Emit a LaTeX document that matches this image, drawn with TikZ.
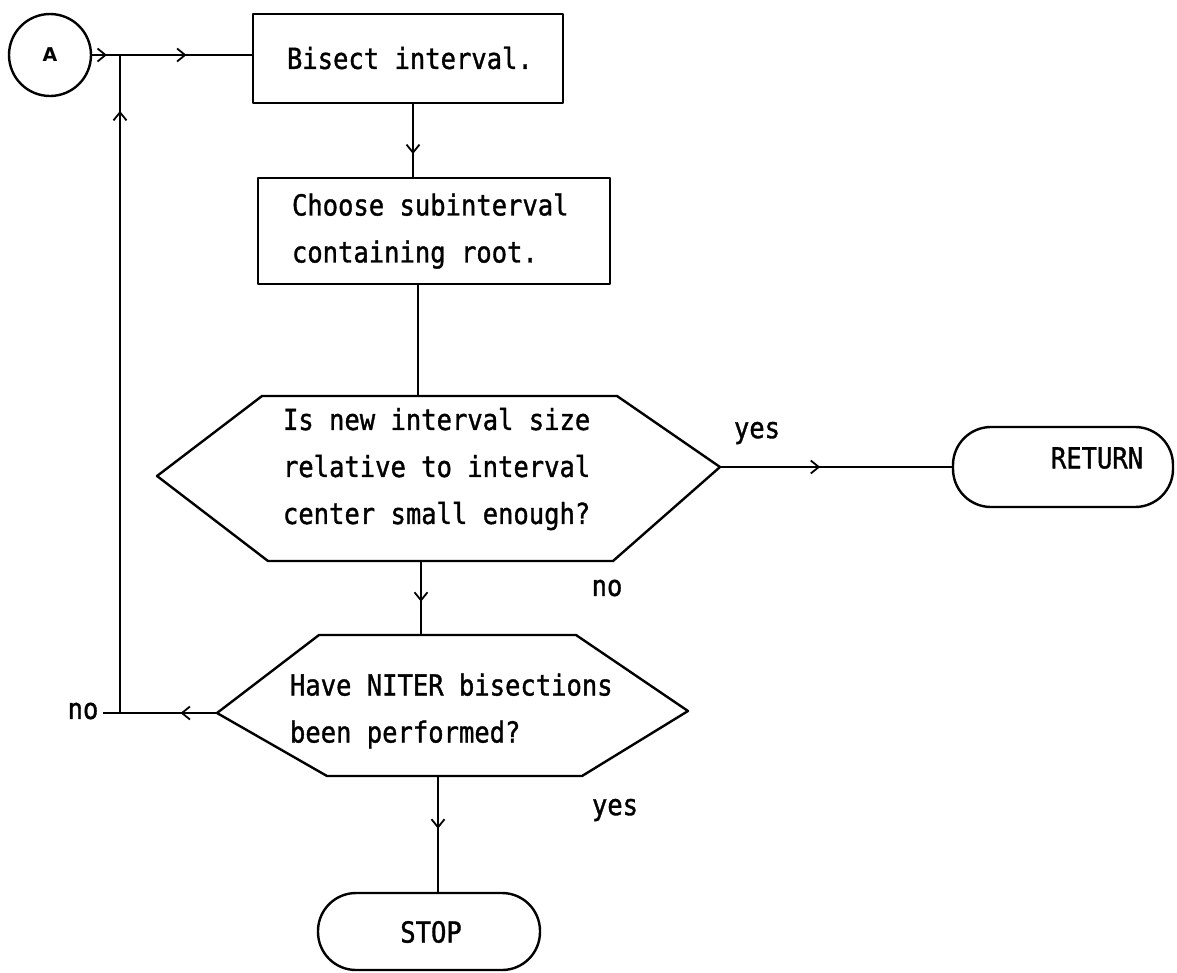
\documentclass[tikz,border=0pt]{standalone}
\usepackage{fontspec}
\newfontfamily\gothic[FakeStretch=0.88,FakeBold=1.2]{DejaVu Sans Mono}
\newfontfamily\labelsans{DejaVu Sans}
\usetikzlibrary{arrows.meta,decorations.markings,calc}

\begin{document}
\begin{tikzpicture}[x=1pt,y=-1pt,
  every node/.style={inner sep=0pt, outer sep=0pt},
  txt/.style={font=\gothic\fontsize{29}{47}\selectfont, align=left},
  outline/.style={draw=black, line width=2.4pt, line join=round},
  conn/.style={draw=black, line width=1.8pt},
  barb/.style={postaction={decorate}, decoration={markings,
      mark=at position #1 with {\arrow{Straight Barb[length=8pt,width=13pt,line width=1.8pt]}}}},
  term/.style={outline, rounded corners=38pt},
]
\useasboundingbox (0,0) rectangle (1177,972);

% connector start circle and process boxes
\node[outline, circle, minimum size=82pt,
      font=\labelsans\bfseries\fontsize{19}{19}\selectfont] (A) at (50,55) {A};
\node[outline, minimum width=310pt, minimum height=89pt] (bis) at (408,58.5) {};
\node[txt, anchor=west] (bist) at (287,58) {Bisect interval.};
\node[outline, minimum width=352pt, minimum height=106pt] (cho) at (434,231) {};
\node[txt, anchor=west] (chot) at (292,231) {Choose subinterval\\containing root.};

% first decision
\coordinate (h1l)  at (157,476);
\coordinate (h1tl) at (262,396);
\coordinate (h1tr) at (617,396);
\coordinate (h1r)  at (720,467);
\coordinate (h1br) at (613,561);
\coordinate (h1bl) at (268,561);
\draw[outline] (h1l) -- (h1tl) -- (h1tr) -- (h1r) -- (h1br) -- (h1bl) -- cycle;
\node[txt, anchor=west] (q1) at (283,469) {Is new interval size\\relative to interval\\center small enough?};

% second decision
\coordinate (h2l)  at (217,713);
\coordinate (h2tl) at (319,635);
\coordinate (h2tr) at (576,635);
\coordinate (h2r)  at (688,711);
\coordinate (h2br) at (582,776);
\coordinate (h2bl) at (327,776);
\draw[outline] (h2l) -- (h2tl) -- (h2tr) -- (h2r) -- (h2br) -- (h2bl) -- cycle;
\node[txt, anchor=west] (q2) at (290,711) {Have NITER bisections\\been performed?};

% terminals
\node[term, minimum width=220pt, minimum height=80pt] (ret) at (1063,467) {};
\node[txt] (rett) at (1097,458) {RETURN};
\node[term, minimum width=222pt, minimum height=77pt] (stop) at (429,931.5) {};
\node[txt] (stopt) at (431,932) {STOP};

% connector points
\coordinate (J)     at (120,55);
\coordinate (c1)    at (413,0);
\coordinate (h1t)   at (418,396);
\coordinate (h1b)   at (421,561);
\coordinate (h2t)   at (421,635);
\coordinate (h2b)   at (438,776);
\coordinate (lstub) at (103,713);
\coordinate (lcorner) at (120,713);

% flow lines
\draw[conn, barb=0.55] (A.east) -- (J);
\draw[conn, barb=0.5]  (J) -- (J -| bis.west);
\draw[conn, barb=0.68] (bis.south -| c1) -- (cho.north -| c1);
\draw[conn] (cho.south -| h1t) -- (h1t);
\draw[conn, barb=0.55] (h1b) -- (h2t);
\draw[conn, barb=0.43] (h1r) -- (h1r -| ret.west);
\draw[conn, barb=0.45] (h2b) -- (h2b |- stop.north);
\draw[conn, barb=0.32] (h2l) -- (lstub);
\draw[conn, barb=0.915] (lcorner) -- (J);

% branch labels
\node[txt] (yes1) at (757,433) {yes};
\node[txt] (no1)  at (607,588) {no};
\node[txt] (yes2) at (615,810) {yes};
\node[txt] (no2)  at (83,711)  {no};
\end{tikzpicture}
\end{document}
